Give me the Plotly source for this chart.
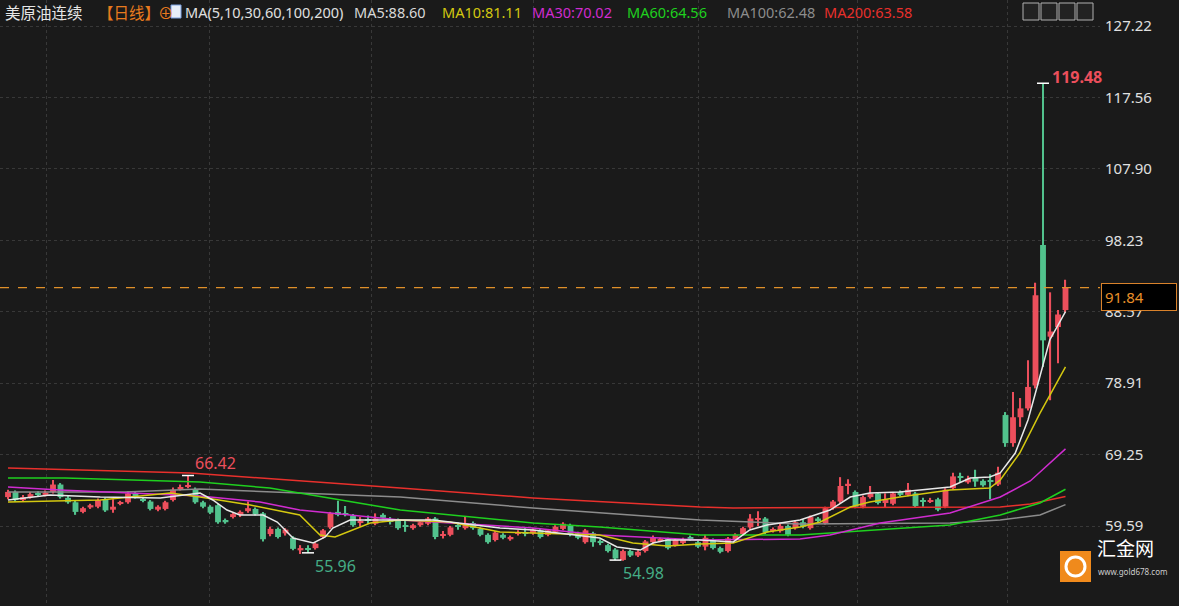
import plotly.graph_objects as go

# 日线 OHLC (美原油连续)
opens = [63.5, 64.2, 63.1, 63.5, 64.0, 63.8, 64.2, 65.2, 63.4, 62.8, 61.5, 62.1, 62.2, 63.2, 61.8, 62.7, 62.8, 64.0, 63.2, 62.9,
         61.8, 61.9, 63.1, 64.6, 64.9, 64.5, 62.8, 62.2, 62.4, 60.4, 60.8, 61.1, 61.6, 61.9, 61.3, 58.5, 59.2, 58.6, 58.0, 56.3,
         56.6, 56.6, 58.1, 59.4, 61.5, 61.3, 61.0, 60.0, 60.5, 59.9, 61.1, 60.4, 60.4, 59.7, 59.3, 59.7, 59.9, 60.6, 58.3, 58.4,
         59.7, 59.3, 60.0, 59.2, 58.4, 57.7, 58.4, 57.8, 58.6, 58.7, 58.6, 59.0, 58.4, 58.8, 59.2, 59.7, 58.6, 57.4, 58.6, 57.5,
         57.0, 56.4, 55.0, 56.2, 55.6, 56.2, 57.4, 57.6, 57.8, 57.0, 57.3, 58.0, 57.4, 56.8, 57.7, 56.6, 56.2, 57.8, 58.5, 59.4,
         60.5, 60.6, 59.0, 58.9, 59.6, 59.3, 60.1, 59.3, 60.6, 60.0, 62.0, 62.9, 65.1, 64.2, 62.2, 63.5, 64.0, 62.7, 62.6, 64.2,
         63.8, 64.0, 63.0, 62.9, 63.2, 62.2, 64.7, 66.3, 65.5, 66.2, 65.7, 65.8, 65.2,
         74.6, 70.8, 74.3, 75.5, 78.6, 97.6, 85.2, 86.5, 88.8]
closes = [64.2, 63.1, 63.5, 63.9, 63.8, 64.1, 65.2, 63.5, 62.8, 61.5, 62.0, 62.4, 63.1, 61.7, 62.2, 62.7, 64.0, 63.5, 63.1, 61.9,
          62.2, 62.8, 64.5, 64.8, 64.9, 62.8, 62.2, 61.4, 60.1, 60.1, 61.2, 61.5, 62.0, 61.2, 57.8, 59.2, 58.1, 59.1, 56.5, 56.6,
          56.4, 57.2, 59.0, 61.3, 61.1, 61.1, 59.7, 60.2, 60.3, 60.6, 60.7, 60.2, 59.3, 59.5, 59.7, 60.1, 60.6, 58.1, 58.5, 59.4,
          59.5, 60.0, 59.3, 58.4, 57.4, 58.7, 58.0, 58.1, 58.7, 58.6, 59.1, 58.1, 59.0, 59.5, 59.9, 58.4, 58.0, 59.0, 57.4, 57.4,
          56.2, 55.2, 56.2, 55.6, 56.1, 57.5, 58.1, 57.8, 56.6, 57.7, 57.8, 57.9, 56.8, 58.0, 56.6, 56.1, 57.9, 58.4, 59.3, 60.6,
          60.6, 58.7, 59.1, 59.6, 58.4, 60.1, 59.5, 60.8, 60.4, 62.0, 62.9, 65.0, 65.3, 62.2, 63.5, 64.0, 62.7, 63.2, 64.0, 63.8,
          64.5, 62.3, 62.9, 63.0, 61.8, 64.5, 66.3, 66.1, 66.0, 65.6, 65.1, 65.6, 66.8,
          70.8, 74.3, 75.5, 78.4, 90.8, 84.7, 85.9, 88.2, 91.84]
highs = [64.5, 64.4, 63.8, 64.2, 64.3, 64.4, 65.8, 65.4, 63.7, 63.0, 62.2, 62.6, 63.3, 63.4, 63.2, 63.0, 64.3, 64.2, 63.5, 63.1,
         62.4, 63.0, 64.8, 65.2, 66.42, 64.8, 63.0, 62.4, 62.6, 60.6, 61.4, 61.7, 62.9, 62.1, 61.5, 59.5, 59.4, 59.3, 58.2, 57.0,
         57.0, 57.4, 59.2, 61.5, 63.0, 62.3, 61.2, 60.8, 61.0, 61.3, 61.3, 60.8, 60.6, 60.3, 59.9, 60.3, 60.8, 60.8, 58.9, 59.6,
         60.1, 60.9, 60.2, 59.4, 58.6, 58.9, 58.6, 58.3, 59.0, 59.3, 59.3, 59.2, 59.2, 59.7, 60.1, 59.9, 58.8, 59.2, 58.8, 57.8,
         57.2, 56.6, 56.4, 56.4, 56.3, 57.7, 58.3, 58.0, 58.0, 57.9, 58.0, 58.3, 57.6, 58.4, 57.9, 56.8, 58.1, 58.6, 59.5, 61.2,
         61.6, 60.8, 59.4, 59.9, 59.8, 60.3, 60.5, 61.0, 60.8, 62.2, 63.1, 66.2, 65.9, 64.4, 63.7, 65.0, 64.2, 64.0, 64.2, 64.4,
         65.4, 64.2, 63.4, 63.4, 63.4, 64.7, 66.8, 66.8, 66.4, 67.2, 65.9, 66.6, 67.6,
         75.0, 77.7, 76.9, 82.0, 92.5, 119.48, 91.2, 88.8, 92.9]
lows = [63.2, 62.9, 62.9, 63.3, 63.6, 63.6, 64.0, 63.3, 62.6, 61.1, 61.3, 61.9, 62.0, 61.5, 61.4, 62.4, 62.6, 63.3, 62.8, 61.7,
        61.6, 61.7, 62.9, 64.4, 64.7, 62.6, 62.0, 61.2, 59.9, 59.9, 60.6, 60.8, 61.4, 61.0, 57.5, 58.2, 57.9, 58.3, 56.3, 55.8,
        55.96, 56.4, 57.9, 59.2, 60.9, 60.9, 59.5, 59.5, 59.9, 59.7, 60.5, 59.8, 59.1, 58.8, 59.1, 59.5, 59.7, 57.8, 57.9, 58.2,
        59.1, 59.1, 59.1, 58.2, 57.2, 57.5, 57.8, 57.6, 58.3, 58.2, 58.4, 57.9, 58.2, 58.6, 59.0, 58.2, 57.8, 57.2, 56.8, 57.0,
        56.0, 54.98, 54.9, 55.4, 55.4, 56.0, 57.2, 57.4, 56.4, 56.8, 57.1, 57.6, 56.6, 56.3, 56.4, 55.9, 56.0, 57.6, 58.3, 59.2,
        59.6, 58.5, 58.7, 58.7, 58.2, 59.1, 59.3, 59.1, 60.1, 59.8, 61.8, 62.7, 63.9, 62.0, 62.0, 63.3, 62.5, 62.1, 62.4, 63.6,
        63.6, 62.1, 62.2, 62.7, 61.6, 62.0, 64.5, 65.5, 65.3, 64.9, 64.9, 63.2, 65.0,
        70.3, 70.3, 73.0, 75.2, 78.2, 81.1, 76.6, 81.6, 88.5]

# 均线 (节点: K线序号, 价格)
ma5_x = [0, 5.6, 12.3, 20.3, 25.6, 27.3, 29.2, 30.9, 34.0, 35.9, 38.0, 40.7, 42.3, 43.3, 45.6, 52.3, 56.7, 65.6, 70.0, 78.9,
         81.2, 84.3, 86.0, 87.9, 92.3, 96.7, 98.9, 101.2, 105.6, 109.6, 112.3, 114.9, 118.9, 125.6, 128.3, 130.9, 132.3,
         134.3, 136.0, 137.1, 138.9, 141]
ma5_y = [63.11, 63.78, 63.51, 63.38, 64.05, 63.11, 61.75, 61.08, 61.08, 60.13, 57.97, 57.29, 58.10, 59.32, 60.40, 60.40,
         60.40, 59.32, 59.05, 57.97, 56.75, 56.34, 57.29, 57.70, 57.70, 57.43, 59.05, 59.73, 60.40, 61.75, 63.51, 64.05,
         64.19, 64.86, 66.08, 66.22, 66.76, 69.46, 73.93, 77.98, 84.75, 88.60]
ma10_x = [0, 12.3, 21.6, 25.6, 32.3, 38.9, 41.6, 43.6, 48.3, 52.3, 58.9, 65.6, 78.9, 83.3, 87.9, 92.3, 96.7, 101.2,
          105.6, 108.3, 112.3, 114.9, 118.9, 125.6, 130.9, 132.3, 134.9, 137.6, 141]
ma10_y = [62.84, 63.11, 64.05, 63.51, 62.43, 61.08, 58.37, 58.10, 59.99, 60.40, 60.13, 58.78, 58.37, 57.29, 56.89, 57.16,
          57.29, 58.78, 59.46, 60.13, 62.16, 62.84, 63.51, 64.46, 64.73, 65.81, 69.46, 74.85, 81.11]
ma30_x = [0, 6.9, 25.6, 33.6, 38.9, 42.9, 52.3, 70.0, 78.9, 92.3, 105.6, 109.6, 116.3, 125.6, 132.3, 136.3, 141]
ma30_y = [64.86, 64.46, 63.65, 62.84, 61.75, 61.35, 60.40, 59.32, 58.37, 57.70, 57.83, 58.37, 60.00, 61.35, 63.51, 65.68,
          70.02]
ma60_x = [0, 7.6, 25.6, 34.9, 52.3, 70.0, 78.9, 92.3, 105.6, 125.6, 132.3, 137.6, 141]
ma60_y = [66.08, 66.08, 65.54, 64.73, 61.75, 60.00, 59.46, 58.37, 58.37, 59.73, 61.08, 62.70, 64.56]
ma100_x = [0, 15.6, 25.6, 52.3, 70.0, 92.3, 105.6, 125.6, 132.3, 137.6, 141]
ma100_y = [64.19, 64.19, 64.60, 63.51, 62.03, 60.40, 59.86, 60.00, 60.40, 61.08, 62.48]
ma200_x = [0, 24.3, 52.3, 70.0, 92.3, 96.7, 132.3, 136.3, 141]
ma200_y = [67.43, 66.76, 64.73, 63.38, 62.16, 62.03, 62.16, 62.57, 63.58]

y_ticks = [59.59, 69.25, 78.91, 88.57, 98.23, 107.90, 117.56, 127.22]
x_grid = [5.1, 26.9, 48.5, 70.0, 92.0, 113.2, 133.2]
last_price = 91.84

RED = "#ec4f5c"
GREEN = "#52c28d"
BG = "#1a1a1a"
CJK = "Noto Sans CJK SC"

idx = list(range(len(opens)))
up = [c >= o for o, c in zip(opens, closes)]

fig = go.Figure()

# 影线 + 实体 (用柱子画)
for flag, col in ((True, RED), (False, GREEN)):
    xs = [i for i in idx if up[i] == flag]
    fig.add_trace(go.Bar(
        x=xs, base=[lows[i] for i in xs], y=[highs[i] - lows[i] for i in xs],
        width=0.16, marker=dict(color=col, line=dict(width=0)), hoverinfo="skip",
    ))
    fig.add_trace(go.Bar(
        x=xs, base=[min(opens[i], closes[i]) for i in xs],
        y=[max(abs(closes[i] - opens[i]), 0.14) for i in xs],
        width=0.78, marker=dict(color=col, line=dict(width=0)), hoverinfo="skip",
    ))

ma_lines = [
    (ma200_x, ma200_y, "#e8302c"),
    (ma100_x, ma100_y, "#8c8c8c"),
    (ma60_x, ma60_y, "#1fd01f"),
    (ma30_x, ma30_y, "#d02cd0"),
    (ma10_x, ma10_y, "#d4c810"),
    (ma5_x, ma5_y, "#e8e8e8"),
]
for mx, my, col in ma_lines:
    fig.add_trace(go.Scatter(x=mx, y=my, mode="lines", line=dict(color=col, width=1.5), hoverinfo="skip"))

# 最新价虚线
fig.add_shape(type="line", xref="paper", x0=0, x1=1, y0=last_price, y1=last_price,
              line=dict(color="#e0902a", width=1.2, dash="dash"), layer="above")

fig.update_layout(
    width=1179, height=606,
    margin=dict(l=0, r=79, t=0, b=0, autoexpand=False),
    paper_bgcolor=BG, plot_bgcolor=BG,
    barmode="overlay", showlegend=False,
    font=dict(family="Noto Sans, sans-serif", color="#d8d8d8", size=15),
)
fig.update_xaxes(range=[-1.067, 145.6], tickvals=x_grid, showticklabels=False, showgrid=True,
                 gridcolor="#383838", griddash="dot", zeroline=False, showline=False, automargin=False)
fig.update_yaxes(range=[48.77, 130.74], side="right", tickvals=y_ticks,
                 ticktext=[f"{v:.2f}" for v in y_ticks], tickfont=dict(color="#e0e0e0", size=15),
                 showgrid=True, gridcolor="#383838", griddash="dot", zeroline=False, ticks="",
                 ticklabelstandoff=4, automargin=False)

# 高低点标注
marks = [(138, 119.48, "<b>119.48</b>", RED, 0.9),
         (24, 66.42, "66.42", RED, 0.7),
         (40, 55.96, "55.96", "#45ad86", 0.7),
         (81, 54.98, "54.98", "#45ad86", 0.7)]
anchors = ["middle", "bottom", "top", "top"]
for (mi, mv, txt, col, dx), ya in zip(marks, anchors):
    fig.add_shape(type="line", x0=mi - 0.8, x1=mi + 0.8, y0=mv, y1=mv, line=dict(color="#ffffff", width=1.5))
    fig.add_annotation(x=mi + dx, y=mv, text=txt, showarrow=False, xanchor="left", yanchor=ya,
                       font=dict(color=col, size=16), yshift=6 if ya == "middle" else 0)

fig.add_annotation(xref="paper", x=1.0, y=last_price, text="91.84", showarrow=False, xanchor="left",
                   bgcolor="#000000", bordercolor="#d9822b", borderwidth=1, borderpad=3, xshift=1, yshift=-9,
                   font=dict(color="#e8902a", size=15), width=68, align="left")

# 标题行
header = [
    (3, "美原油连续", "#e6e6e6", CJK, 15.5),
    (96, "【日线】", "#e87a1e", CJK, 15.5),
    (156, "⊕", "#e87a1e", CJK, 15.5),
    (183, "MA(5,10,30,60,100,200)", "#e0e0e0", "Noto Sans", 14.5),
    (352, "MA5:88.60", "#d8d8d8", "Noto Sans", 14.5),
    (440, "MA10:81.11", "#d4c810", "Noto Sans", 14.5),
    (530, "MA30:70.02", "#d02cd0", "Noto Sans", 14.5),
    (625, "MA60:64.56", "#1fd01f", "Noto Sans", 14.5),
    (725, "MA100:62.48", "#8c8c8c", "Noto Sans", 14.5),
    (822, "MA200:63.58", "#e8302c", "Noto Sans", 14.5),
]
for px, txt, col, fam, sz in header:
    fig.add_annotation(xref="paper", yref="paper", x=px / 1100, y=1 - 12 / 606, text=txt, showarrow=False,
                       xanchor="left", yanchor="middle", font=dict(color=col, size=sz, family=fam))
fig.add_shape(type="rect", xref="paper", yref="paper", x0=171 / 1100, x1=181 / 1100, y0=1 - 18 / 606,
              y1=1 - 5 / 606, line=dict(color="#7aa0e0", width=1), fillcolor="#e8eef8")

# 工具按钮
for k in range(4):
    x0 = 1023 + k * 18
    fig.add_shape(type="rect", xref="paper", yref="paper", x0=x0 / 1100, x1=(x0 + 16) / 1100,
                  y0=1 - 20 / 606, y1=1 - 3 / 606, line=dict(color="#b0b0b0", width=1), fillcolor="#222222")

# 水印
fig.add_shape(type="rect", xref="paper", yref="paper", x0=1060 / 1100, x1=1091 / 1100,
              y0=1 - 582 / 606, y1=1 - 551 / 606, line=dict(width=0), fillcolor="#f08a1c")
fig.add_shape(type="circle", xref="paper", yref="paper", x0=1066 / 1100, x1=1085 / 1100,
              y0=1 - 576 / 606, y1=1 - 557 / 606, line=dict(color="#ffffff", width=3))
fig.add_annotation(xref="paper", yref="paper", x=1095 / 1100, y=1 - 563 / 606, text="汇金网",
                   showarrow=False, xanchor="left", font=dict(color="#ffffff", size=19, family=CJK))
fig.add_annotation(xref="paper", yref="paper", x=1096 / 1100, y=1 - 579 / 606, text="www.gold678.com",
                   showarrow=False, xanchor="left", font=dict(color="#cccccc", size=8))

fig.write_html("out.html", config={"displayModeBar": False},
               post_script="document.body.style.margin='0';document.body.style.background='#1a1a1a';")
